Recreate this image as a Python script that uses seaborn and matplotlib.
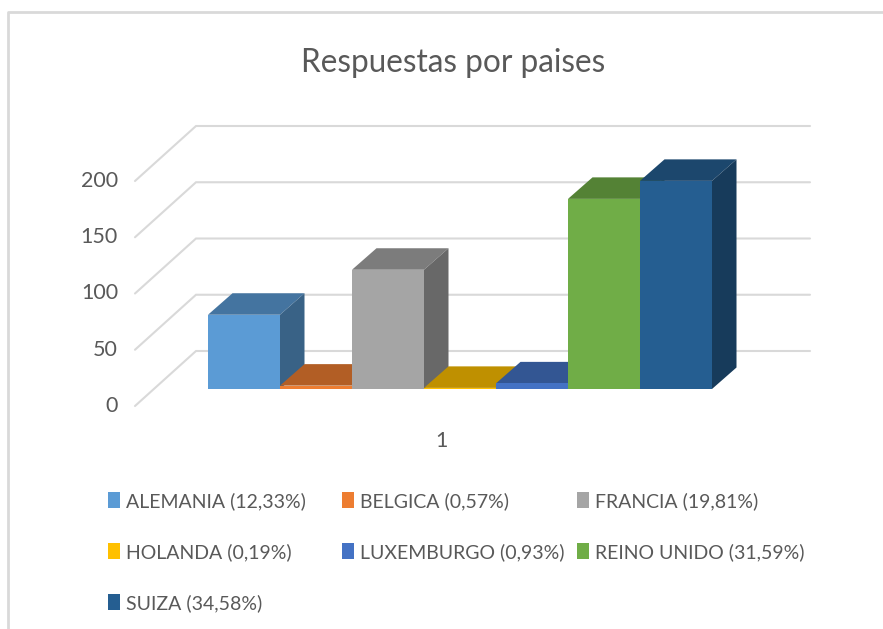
import pandas as pd
import seaborn as sns
import matplotlib.pyplot as plt
from matplotlib.patches import Patch, Polygon

paises = ["ALEMANIA", "BELGICA", "FRANCIA", "HOLANDA", "LUXEMBURGO", "REINO UNIDO", "SUIZA"]
respuestas = [66, 3, 106, 1, 5, 169, 185]
porcentajes = ["12,33", "0,57", "19,81", "0,19", "0,93", "31,59", "34,58"]
colores = ["#5B9BD5", "#ED7D31", "#A5A5A5", "#FFC000", "#4472C4", "#70AD47", "#255E91"]
ticks = [0, 50, 100, 150, 200]

W, H = 883, 629
BASE = 389        # bar base, pixels from top
UX = 72           # pixels per bar
UY = 1.125        # pixels per response
LEFT = 208        # left edge of first bar
GRIS = "#595959"
LINEA = "#D9D9D9"


def px(x):
    return (x - LEFT) / UX - 0.5


def py(y):
    return (BASE - y) / UY


def shade(color, f):
    r, g, b = plt.matplotlib.colors.to_rgb(color)
    return (r * f, g * f, b * f)


sns.set_theme(style="white", rc={"figure.facecolor": "white", "axes.facecolor": "white"})
plt.rcParams["font.family"] = ["Lato", "DejaVu Sans"]

fig = plt.figure(figsize=(W / 100, H / 100), dpi=100)
ax = fig.add_axes([0, 0, 1, 1])

df = pd.DataFrame({"pais": paises, "n": respuestas})
sns.barplot(data=df, x="pais", y="n", hue="pais", palette=colores, hue_order=paises,
            order=paises, width=1, saturation=1, legend=False, ax=ax, linewidth=0)
ax.set_xlim(px(0), px(W))
ax.set_ylim(py(H), py(0))
ax.axis("off")

# 3d depth of the bars
dx, dy = 24.5 / UX, 21.5 / UY
for i, bar in enumerate(ax.patches):
    x0, x1 = bar.get_x(), bar.get_x() + bar.get_width()
    h = bar.get_height()
    c = bar.get_facecolor()
    bar.set_zorder(12 + 3 * i)
    ax.add_patch(Polygon([(x0, h), (x1, h), (x1 + dx, h + dy), (x0 + dx, h + dy)],
                         fc=shade(c, 0.75), ec="none", zorder=10 + 3 * i))
    ax.add_patch(Polygon([(x1, 0), (x1 + dx, dy), (x1 + dx, h + dy), (x1, h)],
                         fc=shade(c, 0.63), ec="none", zorder=11 + 3 * i))

# back wall and side wall grid
for t in ticks:
    back = t + py(351)
    front = t + py(406)
    ax.plot([px(135), px(196), px(810)], [front, back, back], color=LINEA, lw=1.5,
            solid_joinstyle="miter", zorder=1)
    ax.text(px(118), front + 0.2, str(t), ha="right", va="center", fontsize=15.5, color=GRIS)

# chart border, left and top only
ax.plot([px(8), px(8), px(W)], [py(H), py(11.5), py(11.5)], color=LINEA, lw=2, zorder=1)

ax.text(px(453), py(63), "Respuestas por paises", ha="center", va="center", fontsize=22.7,
        color=GRIS)
ax.text(px(441), py(441), "1", ha="center", va="center", fontsize=15.5, color=GRIS)

# legend, one block per column
handles = [Patch(fc=c, ec="none", label=f"{p} ({v}%)") for c, p, v in zip(colores, paises, porcentajes)]
for col, left in enumerate([108, 342, 577]):
    fig.legend(handles=handles[col::3], loc="upper left",
               bbox_to_anchor=(left / W, 1 - 492 / H), bbox_transform=fig.transFigure,
               frameon=False, fontsize=14, labelcolor=GRIS, borderpad=0, borderaxespad=0,
               handlelength=0.62, handleheight=0.85, handletextpad=0.3, labelspacing=1.7)

fig.savefig("out.png", dpi=100)
